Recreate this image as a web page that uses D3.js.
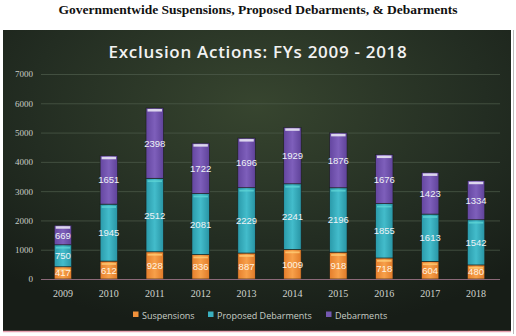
<!DOCTYPE html>
<html><head><meta charset="utf-8">
<script src="https://cdn.jsdelivr.net/npm/d3@7"></script>
<style>html,body{margin:0;padding:0;background:#fff;}svg{display:block;}</style>
</head><body>
<svg id="c" width="516" height="336"></svg>
<script>
const years = ["2009","2010","2011","2012","2013","2014","2015","2016","2017","2018"];
const suspensions = [417,612,928,836,887,1009,918,718,604,480];
const proposedDebarments = [750,1945,2512,2081,2229,2241,2196,1855,1613,1542];
const debarments = [669,1651,2398,1722,1696,1929,1876,1676,1423,1334];
const seriesNames = ["Suspensions","Proposed Debarments","Debarments"];
const yTicks = [0,1000,2000,3000,4000,5000,6000,7000];

const svg = d3.select("#c");
const defs = svg.append("defs");

// background gradient
const bg = defs.append("radialGradient").attr("id","bg").attr("cx","50%").attr("cy","25%").attr("r","75%");
bg.append("stop").attr("offset","0%").attr("stop-color","#37452f");
bg.append("stop").attr("offset","60%").attr("stop-color","#232d22");
bg.append("stop").attr("offset","100%").attr("stop-color","#171d17");

function hgrad(id, stops){
  const g = defs.append("linearGradient").attr("id",id).attr("x1",0).attr("y1",0).attr("x2",1).attr("y2",0);
  stops.forEach(s=>g.append("stop").attr("offset",s[0]).attr("stop-color",s[1]));
}
hgrad("g0",[["0%","#e57e2c"],["50%","#f7a04a"],["100%","#e07a28"]]);
hgrad("g1",[["0%","#2a9aaa"],["50%","#43bccb"],["100%","#2894a4"]]);
hgrad("g2",[["0%","#6446a0"],["50%","#7e5fbb"],["100%","#5f4299"]]);
const fills = ["url(#g0)","url(#g1)","url(#g2)"];
const solid = ["#f0913a","#3ab0c0","#7458b0"];

// header
svg.append("text").attr("x",258).attr("y",14).attr("text-anchor","middle")
  .attr("font-family","Liberation Serif, serif").attr("font-weight","bold").attr("font-size",13.5)
  .attr("fill","#111").text("Governmentwide Suspensions, Proposed Debarments, & Debarments");

// panel
svg.append("rect").attr("x",3).attr("y",30).attr("width",508).attr("height",302).attr("fill","url(#bg)");
svg.append("line").attr("x1",3).attr("x2",511).attr("y1",331.5).attr("y2",331.5).attr("stroke","#e8a0b0").attr("stroke-width",1.5);
svg.append("line").attr("x1",513.5).attr("x2",513.5).attr("y1",30).attr("y2",334).attr("stroke","#bbb").attr("stroke-width",1);

// title
svg.append("text").attr("x",258).attr("y",58).attr("text-anchor","middle")
  .attr("font-family","Open Sans, sans-serif").attr("font-weight",600).attr("font-size",17).attr("fill","#f2f2f2")
  .attr("letter-spacing","0.7").text("Exclusion Actions: FYs 2009 - 2018");

const x = d3.scaleBand().domain(years).range([40,499]).paddingInner(0.62).paddingOuter(0.31);
const y = d3.scaleLinear().domain([0,7000]).range([279,74]);

// grid
const yAxis = d3.axisLeft(y).tickValues(yTicks).tickSize(-(500-41)).tickPadding(8).tickFormat(d3.format("d"));
const ga = svg.append("g").attr("transform","translate(41,0)").call(yAxis);
ga.select(".domain").remove();
ga.selectAll(".tick line").attr("stroke","#4a5848").attr("stroke-width",0.8);
ga.selectAll(".tick text").attr("fill","#c9cfc6").attr("font-family","Liberation Serif, serif").attr("font-size",9);

// stacked data
const data = years.map((yr,i)=>({year:yr, s0:suspensions[i], s1:proposedDebarments[i], s2:debarments[i]}));
const stack = d3.stack().keys(["s0","s1","s2"])(data);

const layers = svg.append("g").selectAll("g").data(stack).join("g");
layers.each(function(layer, li){
  const g = d3.select(this);
  g.selectAll("rect.seg").data(layer).join("rect").attr("class","seg")
    .attr("x",d=>x(d.data.year)).attr("width",x.bandwidth())
    .attr("y",d=>y(d[1])).attr("height",d=>y(d[0])-y(d[1]))
    .attr("fill",fills[li]).attr("stroke","#1a1f1a").attr("stroke-width",0.6);
  const hl = ["#ffd07a","#5fd6d6","#e8e4f4"][li];
  g.selectAll("rect.hl").data(layer).join("rect").attr("class","hl")
    .attr("x",d=>x(d.data.year)+1.5).attr("width",x.bandwidth()-3)
    .attr("y",d=>y(d[1])+ (li===2?1:2)).attr("height",li===2?2.5:1.8)
    .attr("fill",hl).attr("opacity",li===2?0.9:0.75);
  g.selectAll("text").data(layer).join("text")
    .attr("x",d=>x(d.data.year)+x.bandwidth()/2)
    .attr("y",d=>(y(d[0])+y(d[1]))/2+3.5)
    .attr("text-anchor","middle").attr("font-family","Liberation Sans, sans-serif").attr("font-size",9.5)
    .attr("fill",li===0?"#fff3e0":"#eef2f6")
    .text(d=>d[1]-d[0]);
});

// baseline
svg.append("line").attr("x1",41).attr("x2",500).attr("y1",y(0)+0.5).attr("y2",y(0)+0.5).attr("stroke","#8a6878").attr("stroke-width",1.2);

// x axis labels
const xAxis = d3.axisBottom(x).tickSize(0).tickPadding(11);
const gx = svg.append("g").attr("transform",`translate(0,${y(0)})`).call(xAxis);
gx.select(".domain").remove();
gx.selectAll(".tick text").attr("fill","#d0d4ce").attr("font-family","Liberation Serif, serif").attr("font-size",10);

// legend
const legendX = [133,208,326];
const lg = svg.append("g").selectAll("g").data(seriesNames).join("g")
  .attr("transform",(d,i)=>`translate(${legendX[i]},316)`);
lg.append("rect").attr("x",0).attr("y",-4.5).attr("width",5.5).attr("height",5.5).attr("fill",(d,i)=>solid[i]);
lg.append("text").attr("x",9).attr("y",3).attr("fill","#c8cec6").attr("font-family","Open Sans, sans-serif").attr("font-size",9).text(d=>d);
</script>
</body></html>
